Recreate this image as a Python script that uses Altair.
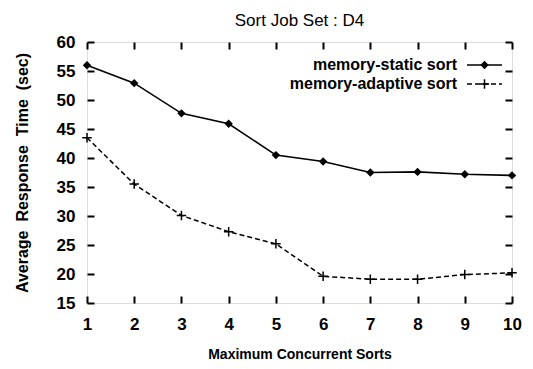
import altair as alt
import pandas as pd

sorts = [1, 2, 3, 4, 5, 6, 7, 8, 9, 10]
static_vals = [56.0, 52.9, 47.7, 45.9, 40.5, 39.4, 37.5, 37.6, 37.2, 37.0]
adaptive_vals = [43.5, 35.5, 30.1, 27.3, 25.2, 19.6, 19.1, 19.1, 19.9, 20.2]
series_names = ["memory-static sort", "memory-adaptive sort"]
x_ticks = [1, 2, 3, 4, 5, 6, 7, 8, 9, 10]
y_ticks = [15, 20, 25, 30, 35, 40, 45, 50, 55, 60]

W, H = 425, 261
FONT = "Liberation Sans"
NB = "\u00a0"
TL = 7

static_df = pd.DataFrame({"x": sorts, "y": static_vals})
adapt_df = pd.DataFrame({"x": sorts, "y": adaptive_vals})

xs = alt.Scale(domain=[1, 10], nice=False, zero=False)
ys = alt.Scale(domain=[15, 60], nice=False, zero=False)

common = dict(ticks=False, domain=False, grid=True, gridColor="black", gridWidth=2,
              gridOpacity=1, labelFont=FONT, labelFontSize=17, labelFontWeight="bold",
              labelColor="black", labelOverlap=False, labelBound=False, labelFlush=False,
              titleFont=FONT, titleFontWeight="bold", titleColor="black")

ytitle = "Average" + NB + NB + "Response" + NB + NB + "Time" + NB + NB + "(sec)"
xaxis = alt.Axis(values=x_ticks, labelPadding=13, titleFontSize=14, titlePadding=15,
                 gridDash=[TL, H - 2 * TL, TL, 2000], **common)
yaxis = alt.Axis(values=y_ticks, labelPadding=12, titleFontSize=16, titlePadding=26,
                 gridDash=[TL, W - 2 * TL, TL, 2000], **common)
xenc = alt.X("x:Q", scale=xs, title="Maximum Concurrent Sorts", axis=xaxis)
yenc = alt.Y("y:Q", scale=ys, title=ytitle, axis=yaxis)

static_line = alt.Chart(static_df).mark_line(color="black", strokeWidth=1.6).encode(x=xenc, y=yenc)
static_pts = alt.Chart(static_df).mark_point(shape="diamond", filled=True, color="black", size=70, opacity=1).encode(x=xenc, y=yenc)
adapt_line = alt.Chart(adapt_df).mark_line(color="black", strokeWidth=1.5, strokeDash=[5, 3]).encode(x=xenc, y=yenc)
plus = "M-1,0H1M0,-1V1"
adapt_pts = alt.Chart(adapt_df).mark_point(shape=plus, filled=False, color="black", size=90, strokeWidth=1.5, opacity=1).encode(x=xenc, y=yenc)

# legend (inside, top right; label then sample)
lab_x, sym_x1, sym_x2, row_y = 370, 380, 415, [23, 42]
def leg_text(i):
    return alt.Chart(pd.DataFrame({"name": [series_names[i]]})).mark_text(
        align="right", baseline="middle", font=FONT, fontSize=16, fontWeight="bold",
        color="black").encode(text="name:N", x=alt.value(lab_x), y=alt.value(row_y[i]))
one = pd.DataFrame({"a": [0]})
leg_line1 = alt.Chart(one).mark_rule(color="black", strokeWidth=1.6).encode(
    x=alt.value(sym_x1), x2=alt.value(sym_x2), y=alt.value(row_y[0]))
leg_line2 = alt.Chart(one).mark_rule(color="black", strokeWidth=1.5, strokeDash=[5, 3]).encode(
    x=alt.value(sym_x1), x2=alt.value(sym_x2), y=alt.value(row_y[1]))
leg_pt1 = alt.Chart(one).mark_point(shape="diamond", filled=True, color="black", size=70, opacity=1).encode(
    x=alt.value((sym_x1 + sym_x2) / 2), y=alt.value(row_y[0]))
leg_pt2 = alt.Chart(one).mark_point(shape=plus, filled=False, color="black", size=90, strokeWidth=1.5, opacity=1).encode(
    x=alt.value((sym_x1 + sym_x2) / 2), y=alt.value(row_y[1]))

chart = alt.layer(
    static_line, adapt_line, static_pts, adapt_pts,
    leg_text(0), leg_text(1), leg_line1, leg_line2, leg_pt1, leg_pt2,
).properties(
    width=W, height=H,
    title=alt.TitleParams("Sort Job Set : D4", font=FONT, fontSize=17, fontWeight="normal",
                          color="black", offset=3, anchor="middle"),
    autosize=alt.AutoSizeParams(type="none"),
    padding={"left": 79, "top": 34, "right": 12, "bottom": 64},
).configure_view(stroke="black", strokeWidth=2).configure(background="white")

chart.save("out.html", embed_options={"renderer": "svg", "actions": False})
